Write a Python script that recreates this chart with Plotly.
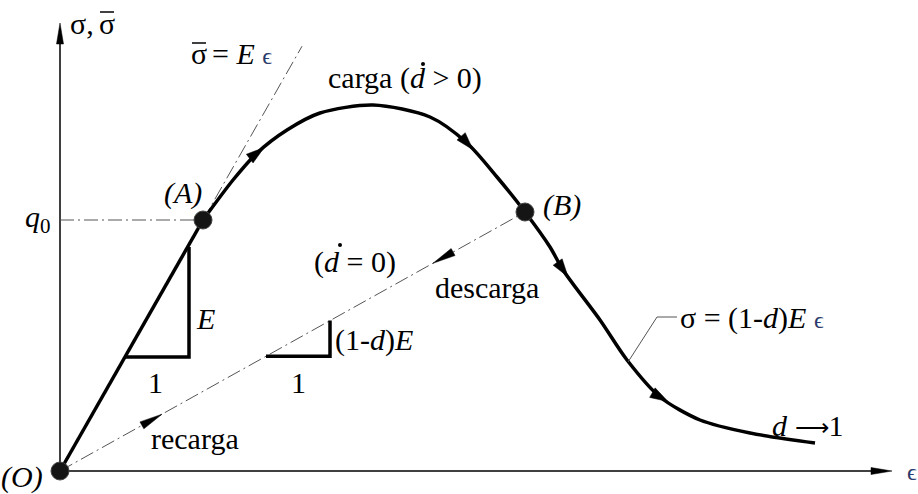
import numpy as np
import plotly.graph_objects as go

# ---- data (strain / stress in drawing units) ----
curve_strain = [143, 173, 197, 227, 260, 313, 370, 407, 437, 465, 490, 503, 540, 567, 600, 640, 690, 755]
curve_stress = [251, 291, 318, 341, 358, 366, 354, 328, 294, 259, 224, 201, 151, 111, 74, 51, 38, 28]

point_labels = ["(O)", "(A)", "(B)"]
point_strain = [0, 143, 465]
point_stress = [0, 251, 259]

E_slope = 251 / 143          # elastic modulus (initial slope)
unload_slope = 259 / 465     # secant (1-d)E

elastic_ext_end = 242        # strain where the σ̄ = Eε guide ends
x_axis_end = 832
y_axis_end = 448

# strain positions of the direction arrows
curve_arrow_tips = [204, 413, 508, 608]
unload_arrow_tip = 373
reload_arrow_tip = 102

FONT = "Liberation Serif"
FS = 30
EPS_COLOR = "#2b3b6b"
EPS = f"<span style='color:{EPS_COLOR};font-size:24px'>ϵ</span>"

fig = go.Figure()

# axes
fig.add_trace(go.Scatter(x=[0, x_axis_end - 10], y=[0, 0], mode="lines",
                         line=dict(color="black", width=1.5), hoverinfo="skip"))
fig.add_trace(go.Scatter(x=[0, 0], y=[0, y_axis_end - 10], mode="lines",
                         line=dict(color="black", width=1.5), hoverinfo="skip"))

dashdot = "14px,4px,2px,4px"
# σ̄ = E ε guide line
fig.add_trace(go.Scatter(x=[point_strain[1], elastic_ext_end],
                         y=[point_stress[1], E_slope * elastic_ext_end],
                         mode="lines", line=dict(color="#555", width=1, dash=dashdot), hoverinfo="skip"))
# q0 level
fig.add_trace(go.Scatter(x=[0, point_strain[1]], y=[point_stress[1]] * 2,
                         mode="lines", line=dict(color="#555", width=1, dash=dashdot), hoverinfo="skip"))
# unloading / reloading secant
fig.add_trace(go.Scatter(x=[0, point_strain[2]], y=[0, point_stress[2]],
                         mode="lines", line=dict(color="#555", width=1, dash=dashdot), hoverinfo="skip"))

# elastic branch
fig.add_trace(go.Scatter(x=[0, point_strain[1]], y=[0, point_stress[1]], mode="lines",
                         line=dict(color="black", width=3.5), hoverinfo="skip"))
# softening curve
fig.add_trace(go.Scatter(x=curve_strain, y=curve_stress, mode="lines",
                         line=dict(color="black", width=3.5, shape="spline", smoothing=0.8),
                         hoverinfo="skip"))

# slope triangles
tri1_x0, tri1_x1 = 65, 129
fig.add_trace(go.Scatter(x=[tri1_x0, tri1_x1, tri1_x1],
                         y=[E_slope * tri1_x0, E_slope * tri1_x0, E_slope * tri1_x0 + 110],
                         mode="lines", line=dict(color="black", width=3.5), hoverinfo="skip"))
tri2_x0, tri2_x1 = 206, 270
fig.add_trace(go.Scatter(x=[tri2_x0, tri2_x1, tri2_x1],
                         y=[unload_slope * tri2_x0, unload_slope * tri2_x0, unload_slope * tri2_x1],
                         mode="lines", line=dict(color="black", width=3.5), hoverinfo="skip"))

# state points
fig.add_trace(go.Scatter(x=point_strain, y=point_stress, mode="markers",
                         marker=dict(size=18, color="#151515", line=dict(color="#444", width=1)),
                         hoverinfo="skip"))

# leader for the σ = (1-d)Eε label
fig.add_trace(go.Scatter(x=[617, 597, 568], y=[154, 154, 109], mode="lines",
                         line=dict(color="#555", width=1), hoverinfo="skip"))

# rate dots over the d in the two ḋ labels
fig.add_trace(go.Scatter(x=[363, 280], y=[407, 226], mode="markers",
                         marker=dict(size=4, color="black"), hoverinfo="skip"))

# overbars of the effective stress σ̄
for xc, yb in [(47, 459), (139, 428)]:
    fig.add_shape(type="line", x0=xc - 7, x1=xc + 7, y0=yb, y1=yb, xref="x", yref="y",
                  line=dict(color="black", width=1.5))


def arrowhead(tip_x, tip_y, from_x, from_y, length=18, half_width=5.5):
    """Filled slim triangle whose point sits at the tip, aligned with from->tip."""
    d = np.array([tip_x - from_x, tip_y - from_y], dtype=float)
    d /= np.hypot(*d)
    n = np.array([-d[1], d[0]])
    tip = np.array([tip_x, tip_y], dtype=float)
    base = tip - length * d
    p1 = base + half_width * n
    p2 = base - half_width * n
    fig.add_trace(go.Scatter(x=[tip[0], p1[0], p2[0], tip[0]], y=[tip[1], p1[1], p2[1], tip[1]],
                             mode="lines", fill="toself", fillcolor="black",
                             line=dict(color="black", width=0.5), hoverinfo="skip"))


def on_curve(s):
    return float(np.interp(s, curve_strain, curve_stress))


# direction arrows along the curve
for s in curve_arrow_tips:
    arrowhead(s, on_curve(s), s - 6, on_curve(s - 6))
# unloading and reloading arrows on the secant
s = unload_arrow_tip
arrowhead(s, unload_slope * s, s + 10, unload_slope * (s + 10), length=23, half_width=4)
s = reload_arrow_tip
arrowhead(s, unload_slope * s, s - 10, unload_slope * (s - 10), length=23, half_width=4)
# axis arrowheads
arrowhead(x_axis_end, 0, 0, 0, length=21, half_width=3.5)
arrowhead(0, y_axis_end, 0, 0, length=21, half_width=3.5)


def label(x, y, text, size=FS, xanchor="center", color="black"):
    fig.add_annotation(x=x, y=y, xref="x", yref="y", text=text, showarrow=False,
                       xanchor=xanchor, yanchor="middle",
                       font=dict(family=FONT, size=size, color=color))


label(8, 448, "σ,", xanchor="left")
label(47, 448, "σ")
label(139, 418, "σ")
label(150, 418, f"= <i>E</i> {EPS}", xanchor="left")
label(345, 393, "carga (<i>d</i> &gt; 0)")
label(123, 278, "<i>(A)</i>")
label(502, 266, "<i>(B)</i>")
label(-22, 252, "<i>q</i><sub>0</sub>")
label(145, 153, "<i>E</i>")
label(95, 89, "1")
label(295, 209, "(<i>d</i> = 0)")
label(427, 184, "descarga")
label(273, 131, "(1-<i>d</i>)<i>E</i>", xanchor="left")
label(238, 89, "1")
label(618, 153, f"σ = (1-<i>d</i>)<i>E</i> {EPS}", xanchor="left")
label(748, 46, "<i>d</i> <span style='font-size:24px'>⟶</span>1")
label(135, 33, "recarga")
label(-38, -6, "<i>(O)</i>")
label(852, -1, "ϵ", size=24, color=EPS_COLOR)

fig.update_layout(
    width=918, height=494,
    margin=dict(l=0, r=0, t=0, b=0),
    paper_bgcolor="white", plot_bgcolor="white",
    showlegend=False,
    xaxis=dict(range=[-60, 858], visible=False, fixedrange=True),
    yaxis=dict(range=[-23, 471], visible=False, fixedrange=True),
)

fig.write_html("out.html")
